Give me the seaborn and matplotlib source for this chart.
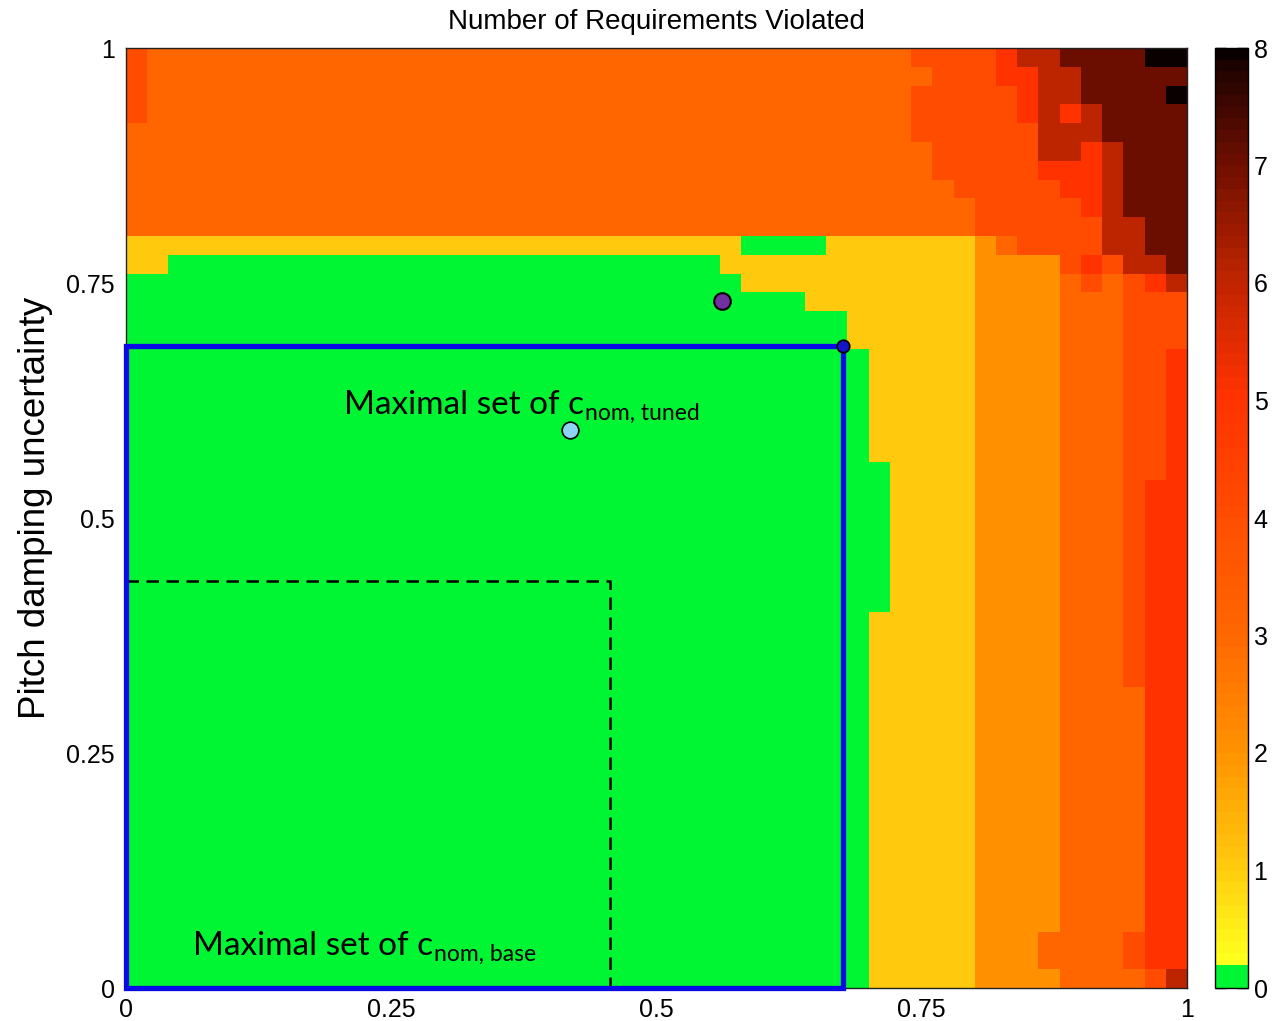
import numpy as np
import pandas as pd
import matplotlib
matplotlib.use("Agg")
import matplotlib.pyplot as plt
from matplotlib.colors import ListedColormap
from matplotlib.patches import Rectangle
import seaborn as sns

# Number of requirements violated on a 50 x 50 grid (x: cell columns, y: pitch
# damping uncertainty). Each block is (number of rows, [(value, run length), ...]),
# listed from the top row (uncertainty near 1) down to the bottom row.
ROW_BLOCKS = [
    (1, [(4, 1), (3, 36), (4, 4), (5, 1), (6, 2), (7, 4), (8, 2)]),
    (1, [(4, 1), (3, 37), (4, 3), (5, 2), (6, 2), (7, 5)]),
    (1, [(4, 1), (3, 36), (4, 5), (5, 1), (6, 2), (7, 4), (8, 1)]),
    (1, [(4, 1), (3, 36), (4, 5), (5, 1), (6, 1), (5, 1), (6, 1), (7, 4)]),
    (1, [(3, 37), (4, 6), (6, 3), (7, 4)]),
    (1, [(3, 38), (4, 5), (6, 2), (5, 1), (6, 1), (7, 3)]),
    (1, [(3, 38), (4, 5), (5, 3), (6, 1), (7, 3)]),
    (1, [(3, 39), (4, 5), (5, 2), (6, 1), (7, 3)]),
    (1, [(3, 40), (4, 5), (5, 1), (6, 1), (7, 3)]),
    (1, [(3, 40), (4, 6), (6, 2), (7, 2)]),
    (1, [(1, 29), (0, 4), (1, 7), (2, 1), (3, 1), (4, 4), (6, 2), (7, 2)]),
    (1, [(1, 2), (0, 26), (1, 12), (2, 4), (4, 1), (5, 1), (4, 1), (6, 2), (7, 1)]),
    (1, [(0, 29), (1, 11), (2, 4), (3, 1), (4, 1), (3, 1), (4, 1), (5, 1), (6, 1)]),
    (1, [(0, 32), (1, 8), (2, 4), (3, 3), (4, 3)]),
    (2, [(0, 34), (1, 6), (2, 4), (3, 3), (4, 3)]),
    (6, [(0, 35), (1, 5), (2, 4), (3, 3), (4, 2), (5, 1)]),
    (1, [(0, 36), (1, 4), (2, 4), (3, 3), (4, 2), (5, 1)]),
    (7, [(0, 36), (1, 4), (2, 4), (3, 3), (4, 1), (5, 2)]),
    (4, [(0, 35), (1, 5), (2, 4), (3, 3), (4, 1), (5, 2)]),
    (13, [(0, 35), (1, 5), (2, 4), (3, 4), (5, 2)]),
    (2, [(0, 35), (1, 5), (2, 3), (3, 4), (4, 1), (5, 2)]),
    (1, [(0, 35), (1, 5), (2, 4), (3, 4), (4, 1), (6, 1)]),
]

TICK_VALUES = [0, 0.25, 0.5, 0.75, 1]
TICK_LABELS = ["0", "0.25", "0.5", "0.75", "1"]
CBAR_TICKS = [0, 1, 2, 3, 4, 5, 6, 7, 8]

# corners of the maximal sets (x, y in unit coordinates)
TUNED_CORNER = (0.676, 0.683)
BASE_CORNER = (0.456, 0.433)
# marked points (x, y in unit coordinates)
PURPLE_POINT = (0.562, 0.731)
LIGHT_POINT = (0.4185, 0.5936)

# ---- grid -----------------------------------------------------------------
rows = []
for n_rows, runs in ROW_BLOCKS:
    row = []
    for value, count in runs:
        row.extend([value] * count)
    rows.extend([row] * n_rows)
grid = pd.DataFrame(np.array(rows, dtype=float))
n_y, n_x = grid.shape

# ---- colormap: green near zero, then yellow -> orange -> red -> black -------
anchor_v = [0.2, 1.0, 2.0, 3.0, 4.0, 5.0, 6.0, 7.0, 8.0]
anchor_rgb = np.array([
    (255, 255, 30), (255, 201, 14), (255, 145, 0), (255, 102, 0),
    (255, 76, 0), (255, 50, 0), (189, 36, 0), (107, 14, 0), (10, 0, 0),
]) / 255.0
n_levels = 80
step = 8.0 / n_levels
colors = []
for k in range(n_levels):
    if k * step < 0.2:
        colors.append((0.0, 0.96, 0.2))
        continue
    v = 8.0 if k == n_levels - 1 else k * step
    colors.append(tuple(np.interp(v, anchor_v, anchor_rgb[:, c]) for c in range(3)))
cmap = ListedColormap(colors)

# ---- figure ---------------------------------------------------------------
sns.set_style("white")
plt.rcParams["font.family"] = ["Liberation Sans", "DejaVu Sans"]
plt.rcParams["text.color"] = "black"
plt.rcParams["axes.labelcolor"] = "black"

W, H = 1274, 1021
fig = plt.figure(figsize=(W / 100, H / 100), dpi=100)
ax = fig.add_axes([126 / W, 1 - 988 / H, (1187 - 126) / W, (988 - 48) / H])
cax = fig.add_axes([1215 / W, 1 - 988 / H, 33 / W, (988 - 48) / H])

sns.heatmap(grid, cmap=cmap, vmin=0, vmax=8, ax=ax, cbar_ax=cax,
            xticklabels=False, yticklabels=False, linewidths=0)


def cell(u, v):
    """unit coordinates -> heatmap cell coordinates"""
    return u * n_x, (1 - v) * n_y


ax.set_xticks([cell(v, 0)[0] for v in TICK_VALUES])
ax.set_xticklabels(TICK_LABELS)
ax.set_yticks([cell(0, v)[1] for v in TICK_VALUES])
ax.set_yticklabels(TICK_LABELS, rotation=0)
ax.tick_params(axis="both", length=0, labelsize=18, colors="black")
ax.tick_params(axis="x", pad=7)
ax.tick_params(axis="y", pad=8)
for sp in ax.spines.values():
    sp.set_visible(True)
    sp.set_color("#222222")
    sp.set_linewidth(1.0)

ax.set_title("Number of Requirements Violated", fontsize=20, pad=14, color="black")
ax.set_ylabel("Pitch damping uncertainty", fontsize=26.5, color="black")
ax.yaxis.set_label_coords(-0.069, 0.511)

# colorbar
cbar = ax.collections[0].colorbar
cbar.set_ticks(CBAR_TICKS)
cbar.set_ticklabels([str(t) for t in CBAR_TICKS])
cax.tick_params(direction="in", length=8, width=1, left=True, right=True,
                labelleft=False, labelright=True, labelsize=18, pad=4,
                colors="black")
cbar.outline.set_edgecolor("black")
cbar.outline.set_linewidth(1.0)

# maximal tuned set (blue box)
x0, y0 = cell(0, TUNED_CORNER[1])
ax.add_patch(Rectangle((x0, y0), TUNED_CORNER[0] * n_x, TUNED_CORNER[1] * n_y,
                       fill=False, edgecolor="#0A0AE6", linewidth=3.8,
                       joinstyle="miter", clip_on=False, zorder=5))

# maximal base set (dashed)
bx, by = zip(cell(0, BASE_CORNER[1]), cell(*BASE_CORNER), cell(BASE_CORNER[0], 0))
ax.plot(bx, by, color="black", linewidth=1.8, dashes=(5, 3), zorder=4)

# points
ax.plot(*cell(*TUNED_CORNER), marker="o", markersize=9, markerfacecolor="#1414C8",
        markeredgecolor="black", markeredgewidth=1.2, zorder=6, clip_on=False)
ax.plot(*cell(*PURPLE_POINT), marker="o", markersize=12, markerfacecolor="#7030A0",
        markeredgecolor="black", markeredgewidth=1.5, zorder=6)
ax.plot(*cell(*LIGHT_POINT), marker="o", markersize=12, markerfacecolor="#8DD4F2",
        markeredgecolor="black", markeredgewidth=1.2, zorder=6)

# labels with subscripts
label_font = ["Lato", "DejaVu Sans"]
t1 = ax.text(*cell(0.2055, 0.6106), "Maximal set of c", fontsize=24,
             family=label_font, color="black", ha="left", va="baseline", zorder=7)
ax.annotate("nom, tuned", xy=(1, 0), xycoords=t1, xytext=(1, 0),
            textcoords="offset points", fontsize=16.5, family=label_font,
            color="black", ha="left", va="baseline", zorder=7)
t2 = ax.text(*cell(0.0631, 0.0351), "Maximal set of c", fontsize=24,
             family=label_font, color="black", ha="left", va="baseline", zorder=7)
ax.annotate("nom, base", xy=(1, 0), xycoords=t2, xytext=(1, 0),
            textcoords="offset points", fontsize=16.5, family=label_font,
            color="black", ha="left", va="baseline", zorder=7)

fig.savefig("out.png", dpi=100)
